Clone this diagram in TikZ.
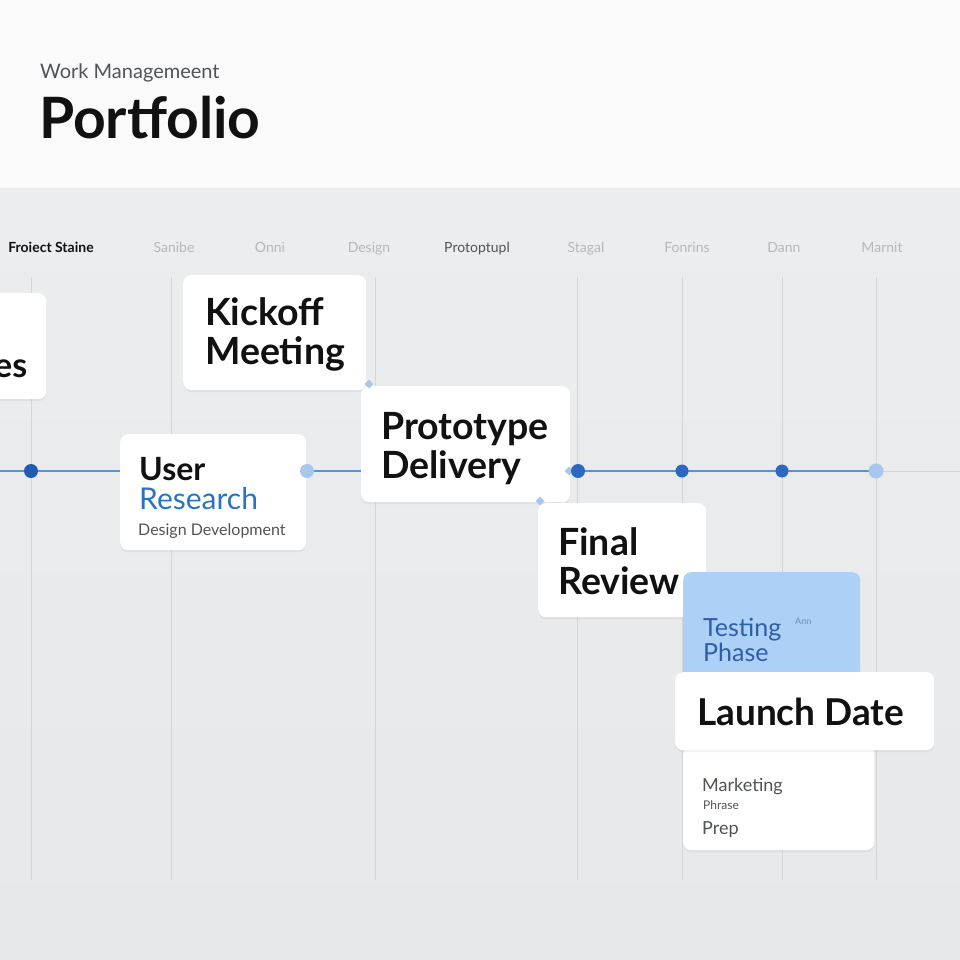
\documentclass[tikz,border=0pt]{standalone}
\usepackage{fontspec}
\setmainfont{Lato}
\usetikzlibrary{shadows,shapes.geometric}
\definecolor{bggray}{HTML}{E7E8E9}
\definecolor{bgtop}{HTML}{ECEDEE}
\definecolor{hdrwhite}{HTML}{FAFAFA}
\definecolor{gridc}{HTML}{D3D5D8}
\definecolor{tlblue}{HTML}{5B91DA}
\definecolor{dotdark}{HTML}{1F5BB0}
\definecolor{dotmid}{HTML}{2C68BF}
\definecolor{dotlight}{HTML}{A9C7EC}
\definecolor{resblue}{HTML}{2B73C0}
\definecolor{testblue}{HTML}{2E5EA8}
\definecolor{testfill}{HTML}{ADD0F6}
\definecolor{txtdark}{HTML}{111111}
\definecolor{txtgray}{HTML}{505358}
\definecolor{lblfaint}{HTML}{B5B7BA}
\tikzset{
  card/.style={fill=white, rounded corners=8pt, inner sep=0pt, anchor=north west,
    drop shadow={opacity=0.10, shadow xshift=0pt, shadow yshift=-2pt}},
  bluecard/.style={card, fill=testfill},
  big/.style={anchor=base west, inner sep=0pt, text=txtdark, font=\fontsize{37.5}{44}\selectfont\bfseries},
  mid/.style={anchor=base west, inner sep=0pt, font=\fontsize{30}{34}\selectfont},
  small/.style={anchor=base west, inner sep=0pt, text=txtgray, font=\fontsize{18}{20}\selectfont},
  hdrlbl/.style={anchor=base, inner sep=0pt, text=lblfaint, font=\fontsize{14}{16}\selectfont},
  gridline/.style={draw=gridc, line width=1pt},
  tline/.style={draw=tlblue, line width=2pt},
  tdot/.style={circle, inner sep=0pt, minimum size=14pt},
  notch/.style={diamond, fill=dotlight, inner sep=0pt, minimum size=9pt},
}
\begin{document}
\begin{tikzpicture}[x=1pt,y=-1pt]
\useasboundingbox (0,0) rectangle (960,960);
% backgrounds
\shade[top color=bgtop, bottom color=bggray] (0,188) rectangle (960,960);
\fill[hdrwhite] (0,0) rectangle (960,188);
\draw[gridc!50!white, line width=1pt] (0,188.5) -- (960,188.5);
% header
\node[anchor=base west, inner sep=0pt, text=txtgray, font=\fontsize{20}{22}\selectfont] (wm) at (40,79) {Work Managemeent};
\node[anchor=base west, inner sep=0pt, text=txtdark, font=\fontsize{57}{60}\selectfont\bfseries] (pf) at (39,139) {Portfolio};
% column labels
\node[hdrlbl, text=txtdark, font=\fontsize{14}{16}\selectfont\bfseries] (h0) at (51,252) {Froiect Staine};
\node[hdrlbl] (h1) at (174,252) {Sanibe};
\node[hdrlbl] (h2) at (270,252) {Onni};
\node[hdrlbl] (h3) at (369,252) {Design};
\node[hdrlbl, text=txtgray] (h4) at (477,252) {Protoptupl};
\node[hdrlbl] (h5) at (586,252) {Stagal};
\node[hdrlbl] (h6) at (687,252) {Fonrins};
\node[hdrlbl] (h7) at (784,252) {Dann};
\node[hdrlbl] (h8) at (882,252) {Marnit};
% grid lines
\foreach \gx in {31,171,375,577,682,782,876}{
  \draw[gridline] (\gx,277) -- (\gx,880);
}
% timeline coordinates
\coordinate (c0) at (0,471);
\coordinate (c1) at (31,471);
\coordinate (c2) at (307,471);
\coordinate (c3) at (578,471);
\coordinate (c4) at (682,471);
\coordinate (c5) at (782,471);
\coordinate (c6) at (876,471);
\coordinate (c7) at (960,471);
\draw[tline] (c0) -- (c1) -- (c2) -- (c3) -- (c4) -- (c5) -- (c6);
\draw[gridline] (c6) -- (c7);
% cards
\node[card, minimum width=66pt, minimum height=106pt] (lft) at (-20,293) {};
\node[big, font=\fontsize{34}{40}\selectfont\bfseries] (lfttxt) at (-6,377) {es};
\node[card, minimum width=186pt, minimum height=116pt] (ur) at (120,434) {};
\node[card, minimum width=183pt, minimum height=115pt] (km) at (183,275) {};
\node[card, minimum width=209pt, minimum height=116pt] (pd) at (361,386) {};
\node[card, minimum width=168pt, minimum height=114pt] (fr) at (538,503) {};
\node[bluecard, minimum width=177pt, minimum height=106pt] (tp) at (683,572) {};
\node[card, minimum width=191pt, minimum height=104pt] (mk) at (683,746) {};
\node[card, minimum width=259pt, minimum height=78pt] (ld) at (675,672) {};
% card texts
\node[big] (km1) at (205,325) {Kickoff};
\node[big] (km2) at (205,364) {Meeting};
\node[mid, text=txtdark, font=\fontsize{32}{34}\selectfont\bfseries] (ur1) at (139,480) {User};
\node[mid, text=resblue] (ur2) at (139,509) {Research};
\node[small, font=\fontsize{16}{18}\selectfont] (ur3) at (138,535) {Design Development};
\node[big] (pd1) at (381,439) {Prototype};
\node[big] (pd2) at (381,478) {Delivery};
\node[big] (fr1) at (558,555) {Final};
\node[big] (fr2) at (558,594) {Review};
\node[mid, text=testblue, font=\fontsize{25}{28}\selectfont] (tp1) at (703,636) {Testing};
\node[mid, text=testblue, font=\fontsize{25}{28}\selectfont] (tp2) at (703,661) {Phase};
\node[anchor=base west, inner sep=0pt, text=testblue!70!white, font=\fontsize{9}{10}\selectfont] (tp3) at (795,624) {Ann};
\node[big, font=\fontsize{37}{40}\selectfont\bfseries] (ld1) at (697,725) {Launch Date};
\node[small] (mk1) at (702,791) {Marketing};
\node[small, font=\fontsize{12}{13}\selectfont] (mk2) at (703,809) {Phrase};
\node[small] (mk3) at (702,834) {Prep};
% dots and notches
\node[tdot, fill=dotdark] (d1) at (c1) {};
\node[tdot, fill=dotlight] (d2) at (c2) {};
\node[notch] (n3) at (569,471) {};
\node[tdot, fill=dotmid] (d3) at (c3) {};
\node[tdot, fill=dotmid, minimum size=13pt] (d4) at (c4) {};
\node[tdot, fill=dotmid, minimum size=13pt] (d5) at (c5) {};
\node[tdot, fill=dotlight, minimum size=15pt] (d6) at (c6) {};
\node[notch] (n1) at (369,384) {};
\node[notch] (n2) at (540,501) {};
\end{tikzpicture}
\end{document}
